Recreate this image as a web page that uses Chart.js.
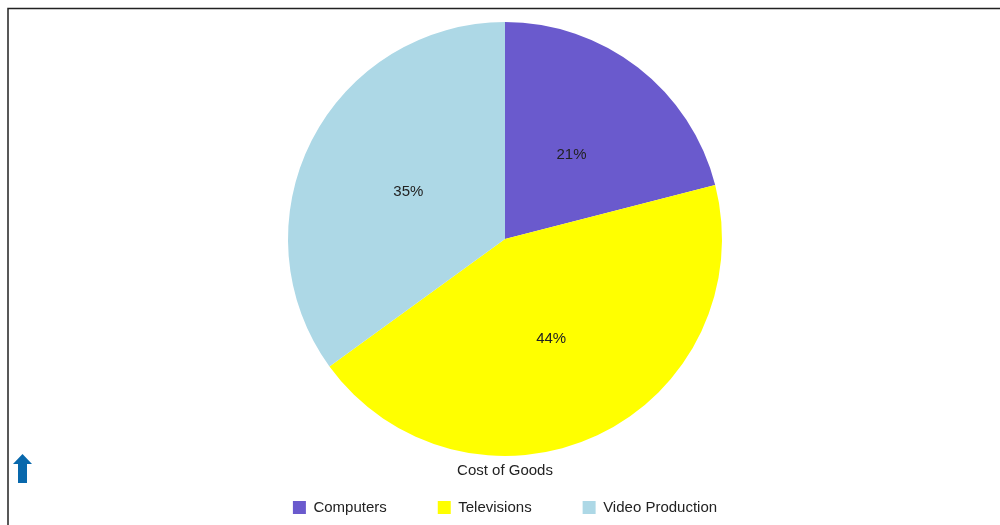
<!DOCTYPE html>
<html>
<head>
<meta charset="utf-8">
<script src="https://cdn.jsdelivr.net/npm/chart.js@4/dist/chart.umd.min.js"></script>
<style>
  html, body { margin: 0; padding: 0; background: #fff; }
  #wrap { width: 1000px; height: 525px; position: relative; }
</style>
</head>
<body>
<div id="wrap"><canvas id="chart" width="1000" height="525"></canvas></div>
<script>
const categories = ['Computers', 'Televisions', 'Video Production'];
const shares = [21, 44, 35];
const colors = ['#6A5ACD', '#FFFF00', '#ADD8E6'];
const chartTitle = 'Cost of Goods';

// percent labels in the middle of each slice
const sliceLabels = {
    id: 'sliceLabels',
    afterDatasetsDraw(chart) {
        const ctx = chart.ctx;
        const meta = chart.getDatasetMeta(0);
        const total = shares.reduce((a, b) => a + b, 0);
        ctx.save();
        ctx.font = '15px "Liberation Sans", Arial, sans-serif';
        ctx.fillStyle = '#222';
        ctx.textAlign = 'center';
        ctx.textBaseline = 'middle';
        meta.data.forEach((arc, i) => {
            const p = arc.tooltipPosition();
            ctx.fillText(Math.round(shares[i] / total * 100) + '%', p.x, p.y + 2);
        });
        ctx.restore();
    }
};

// frame lines and the little up arrow
const frame = {
    id: 'frame',
    afterDraw(chart) {
        const ctx = chart.ctx;
        ctx.save();
        ctx.strokeStyle = '#222';
        ctx.lineWidth = 1.5;
        ctx.beginPath();
        ctx.moveTo(8, 525);
        ctx.lineTo(8, 8.5);
        ctx.lineTo(1000, 8.5);
        ctx.stroke();

        ctx.fillStyle = '#0868AC';
        ctx.beginPath();
        ctx.moveTo(22.5, 454);
        ctx.lineTo(32, 464);
        ctx.lineTo(27, 464);
        ctx.lineTo(27, 483);
        ctx.lineTo(18, 483);
        ctx.lineTo(18, 464);
        ctx.lineTo(13, 464);
        ctx.closePath();
        ctx.fill();
        ctx.restore();
    }
};

new Chart(document.getElementById('chart'), {
    type: 'pie',
    data: {
        labels: categories,
        datasets: [{
            data: shares,
            backgroundColor: colors,
            borderWidth: 0
        }]
    },
    options: {
        responsive: false,
        animation: false,
        layout: {
            padding: { top: 22, left: 10, right: 0, bottom: -7 }
        },
        plugins: {
            title: {
                display: true,
                text: chartTitle,
                position: 'bottom',
                weight: 500,
                color: '#222',
                font: { family: '"Liberation Sans", Arial, sans-serif', size: 15, weight: 'normal' },
                padding: { top: 6, bottom: -31 }
            },
            legend: {
                position: 'bottom',
                labels: {
                    boxWidth: 13,
                    boxHeight: 13,
                    padding: 51,
                    color: '#222',
                    font: { family: '"Liberation Sans", Arial, sans-serif', size: 15 }
                }
            },
            tooltip: { enabled: false }
        }
    },
    plugins: [sliceLabels, frame]
});
</script>
</body>
</html>
